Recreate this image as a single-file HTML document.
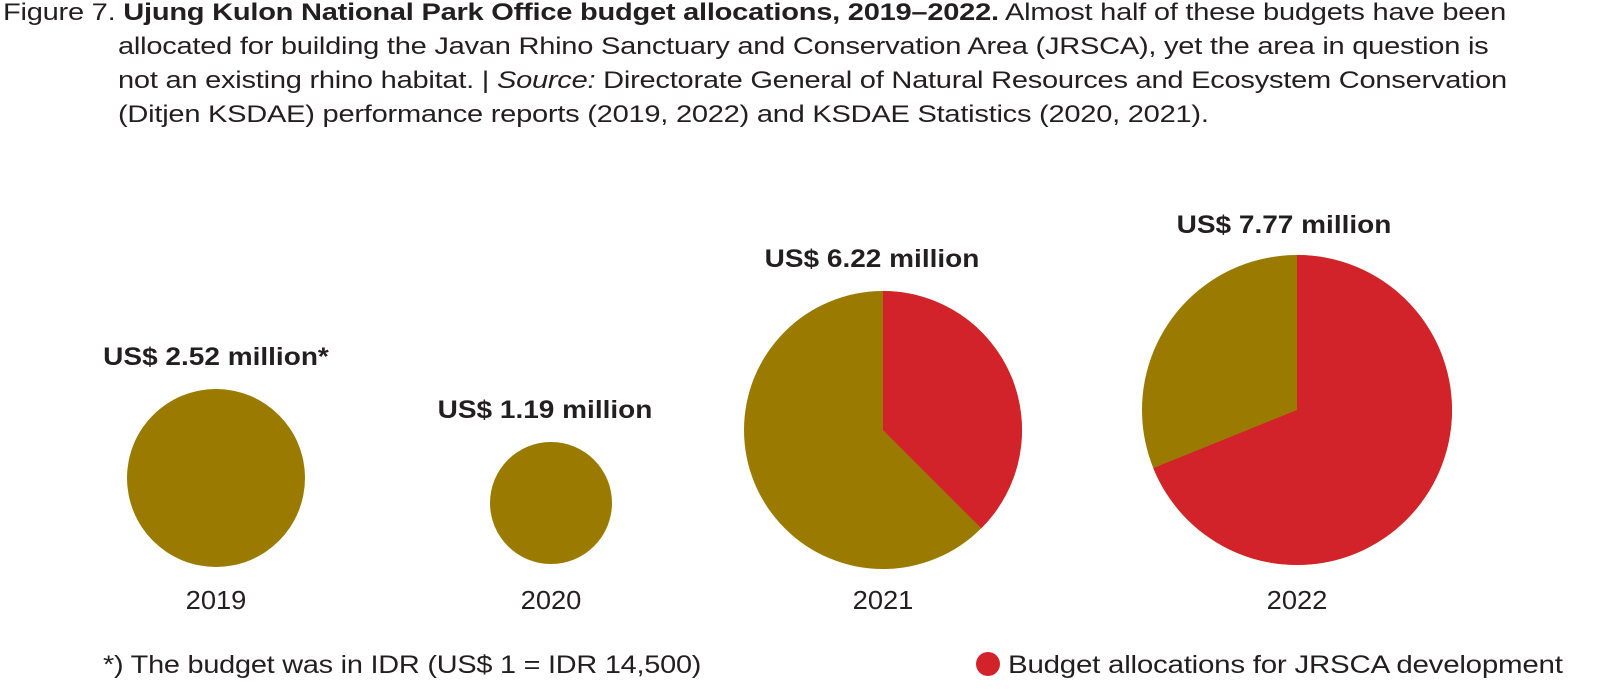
<!DOCTYPE html>
<html><head><meta charset="utf-8"><style>
body{margin:0;width:1600px;height:694px;background:#fff;overflow:hidden;font-family:"Liberation Sans",sans-serif;color:#231f20}
.t{position:absolute;font-size:24px;line-height:34px;white-space:nowrap;letter-spacing:-0.2px;transform-origin:0 0;transform:scaleX(1.21)}
.lbl{position:absolute;font-size:25px;font-weight:bold;white-space:nowrap;transform:translateX(-50%) scaleX(1.12)}
.yr{position:absolute;font-size:26px;white-space:nowrap;transform:translateX(-50%) scaleX(1.05)}
</style></head><body>
<div class="t" style="left:3px;top:-4px">Figure 7. <b>Ujung Kulon National Park Office budget allocations, 2019–2022.</b> Almost half of these budgets have been</div>
<div class="t" style="left:118px;top:30px">allocated for building the Javan Rhino Sanctuary and Conservation Area (JRSCA), yet the area in question is</div>
<div class="t" style="left:118px;top:64px">not an existing rhino habitat. | <i>Source:</i> Directorate General of Natural Resources and Ecosystem Conservation</div>
<div class="t" style="left:118px;top:98px">(Ditjen KSDAE) performance reports (2019, 2022) and KSDAE Statistics (2020, 2021).</div>
<svg width="1600" height="694" style="position:absolute;left:0;top:0">
<circle cx="216" cy="478" r="89" fill="#9a7b00"/>
<circle cx="551" cy="503" r="61" fill="#9a7b00"/>
<circle cx="883" cy="430" r="139" fill="#9a7b00"/>
<path d="M883,430 L883,291 A139,139 0 0 1 981.3,528.3 Z" fill="#d2232a"/>
<circle cx="1297" cy="410" r="155" fill="#9a7b00"/>
<path d="M1297,410 L1297,255 A155,155 0 1 1 1153.3,468.1 Z" fill="#d2232a"/>
<circle cx="988" cy="664" r="12" fill="#d2232a"/>
</svg>
<div class="lbl" style="left:216px;top:343px">US$ 2.52 million*</div>
<div class="lbl" style="left:545px;top:396px">US$ 1.19 million</div>
<div class="lbl" style="left:872px;top:245px">US$ 6.22 million</div>
<div class="lbl" style="left:1284px;top:211px">US$ 7.77 million</div>
<div class="yr" style="left:216px;top:585px">2019</div>
<div class="yr" style="left:551px;top:585px">2020</div>
<div class="yr" style="left:883px;top:585px">2021</div>
<div class="yr" style="left:1297px;top:585px">2022</div>
<div class="t" style="left:103px;top:648px;font-size:25px;transform:scaleX(1.155)">*) The budget was in IDR (US$ 1 = IDR 14,500)</div>
<div class="t" style="left:1008px;top:648px;font-size:25px;transform:scaleX(1.18)">Budget allocations for JRSCA development</div>
</body></html>
